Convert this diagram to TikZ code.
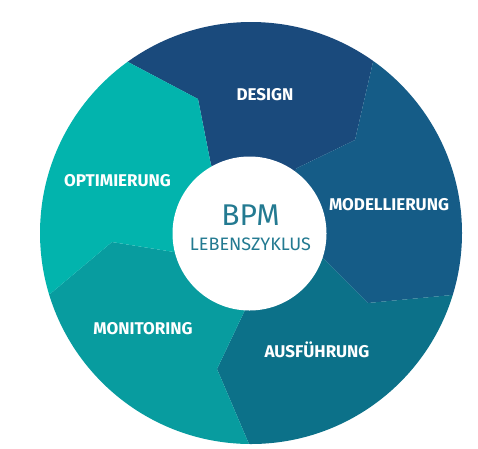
\documentclass[tikz,border=0pt]{standalone}
\usepackage{fontspec}
\setmainfont{Fira Sans}
\usetikzlibrary{calc}
\definecolor{design}{HTML}{1A4A7C}
\definecolor{model}{HTML}{155C87}
\definecolor{ausf}{HTML}{0C7189}
\definecolor{monit}{HTML}{089C9F}
\definecolor{optim}{HTML}{02B4AD}
\definecolor{coretext}{HTML}{237A91}

\begin{document}
\begin{tikzpicture}[x=1pt, y=-1pt,
	phase/.style={anchor=base, text=white, font=\bfseries\fontsize{17}{17}\selectfont}]
	\useasboundingbox (0,0) rectangle (478,448);
	\coordinate (c) at (251,233);
	% Grenzen: innen, Knick, aussen
	\coordinate (i1) at (211,165); \coordinate (k1) at (198,99);  \coordinate (o1) at (128,62);
	\coordinate (i2) at (297,168); \coordinate (k2) at (355,140); \coordinate (o2) at (373,62);
	\coordinate (i3) at (324,259); \coordinate (k3) at (368,303); \coordinate (o3) at (452,295);
	\coordinate (i4) at (245,310); \coordinate (k4) at (217,369); \coordinate (o4) at (249,444);
	\coordinate (i5) at (174,252); \coordinate (k5) at (112,242); \coordinate (o5) at (50,294);

	\begin{scope}
	\clip (c) circle (211pt);
	\fill[design] (c) -- (i1) -- (k1) -- (o1) -- ($(c)!2!(o1)$) -- ($(c)!2!(o2)$) -- (o2) -- (k2) -- (i2) -- cycle;
	\fill[model] (c) -- (i2) -- (k2) -- (o2) -- ($(c)!2!(o2)$) -- ($(c)!2!(o3)$) -- (o3) -- (k3) -- (i3) -- cycle;
	\fill[ausf] (c) -- (i3) -- (k3) -- (o3) -- ($(c)!2!(o3)$) -- ($(c)!2!(o4)$) -- (o4) -- (k4) -- (i4) -- cycle;
	\fill[monit] (c) -- (i4) -- (k4) -- (o4) -- ($(c)!2!(o4)$) -- ($(c)!2!(o5)$) -- (o5) -- (k5) -- (i5) -- cycle;
	\fill[optim] (c) -- (i5) -- (k5) -- (o5) -- ($(c)!2!(o5)$) -- ($(c)!2!(o1)$) -- (o1) -- (k1) -- (i1) -- cycle;
	\end{scope}

	\node[circle, fill=white, minimum size=154pt, inner sep=0pt] at (249.5,233.5) (core) {};
	\node[anchor=base, text=coretext, font=\fontsize{30}{30}\selectfont] at (250.5,225) (bpm) {BPM};
	\node[anchor=base, text=coretext, font=\fontsize{18}{18}\selectfont] at (250.5,250) (zyklus) {LEBENSZYKLUS};

	\node[phase] at (265,100) (design) {DESIGN};
	\node[phase] at (389,210.5) (modell) {MODELLIERUNG};
	\node[phase] at (317,357) (ausfuehr) {AUSFÜHRUNG};
	\node[phase] at (143,334) (monitor) {MONITORING};
	\node[phase] at (117.5,186) (optimier) {OPTIMIERUNG};
\end{tikzpicture}
\end{document}
